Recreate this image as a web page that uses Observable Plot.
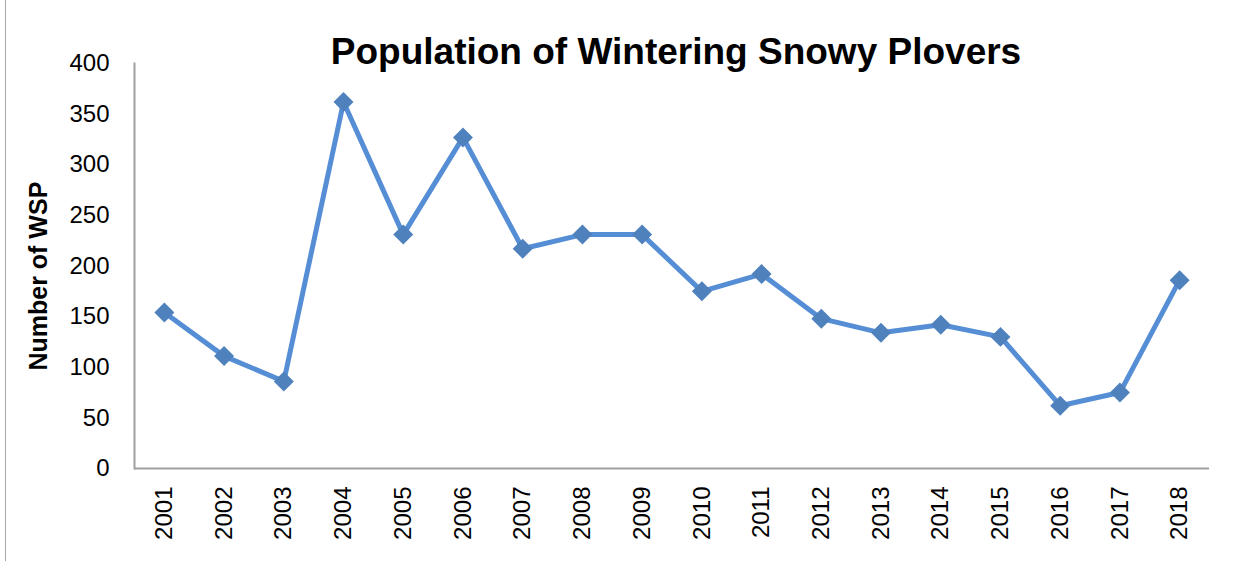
<!DOCTYPE html>
<html>
<head>
<meta charset="utf-8">
<script src="https://cdn.jsdelivr.net/npm/d3@7"></script>
<script src="https://cdn.jsdelivr.net/npm/@observablehq/plot@0.6"></script>
<style>
  html, body { margin: 0; padding: 0; background: #fff; }
  #wrap { position: relative; width: 1246px; height: 561px; overflow: hidden; }
  #edge { position: absolute; left: 5px; top: 0; width: 1px; height: 561px; background: #a6a6a6; z-index: 2; }
</style>
</head>
<body>
<div id="wrap"></div>
<script>
const title = "Population of Wintering Snowy Plovers";
const yLabel = "Number of WSP";
const years = ["2001","2002","2003","2004","2005","2006","2007","2008","2009","2010","2011","2012","2013","2014","2015","2016","2017","2018"];
const counts = [154, 111, 86, 362, 231, 327, 217, 231, 231, 175, 192, 148, 134, 142, 130, 62, 75, 186];
const yTicks = [0, 50, 100, 150, 200, 250, 300, 350, 400];

const data = years.map((year, i) => ({year, count: counts[i]}));

const chart = Plot.plot({
  width: 1246,
  height: 561,
  marginLeft: 134,
  marginRight: 37,
  marginTop: 63,
  marginBottom: 93,
  style: {fontFamily: "'Liberation Sans', Arial, sans-serif", fontSize: "24px", color: "#000", background: "#fff"},
  x: {type: "band", domain: years, padding: 0, round: false},
  y: {domain: [0, 400]},
  marks: [
    Plot.ruleY([0], {stroke: "#a0a0a0", strokeWidth: 2}),
    Plot.frame({anchor: "left", stroke: "#a0a0a0", strokeWidth: 2}),
    Plot.axisY({ticks: yTicks, tickSize: 0, tickPadding: 25, fontSize: 24, label: null}),
    Plot.axisX({tickSize: 0, tickRotate: -90, tickPadding: 18, fontSize: 24, label: null}),
    Plot.text([yLabel], {y: [190], frameAnchor: "left", dx: -96, rotate: -90, text: d => d, fontSize: 25, fontWeight: "bold", textAnchor: "middle", lineAnchor: "middle"}),
    Plot.line(data, {x: "year", y: "count", stroke: "#558ed5", strokeWidth: 5}),
    Plot.dot(data, {x: "year", y: "count", symbol: "diamond2", r: 9, fill: "#4f81bd", stroke: "none"}),
    Plot.text([title], {frameAnchor: "top", dy: -11, dx: 4, lineAnchor: "middle", fontSize: 37, fontWeight: "bold", text: d => d})
  ]
});
const wrap = document.getElementById("wrap");
wrap.appendChild(chart);
chart.style.position = "absolute";
chart.style.left = "0";
chart.style.top = "0";
const edge = document.createElement("div");
edge.id = "edge";
wrap.appendChild(edge);
</script>
</body>
</html>
